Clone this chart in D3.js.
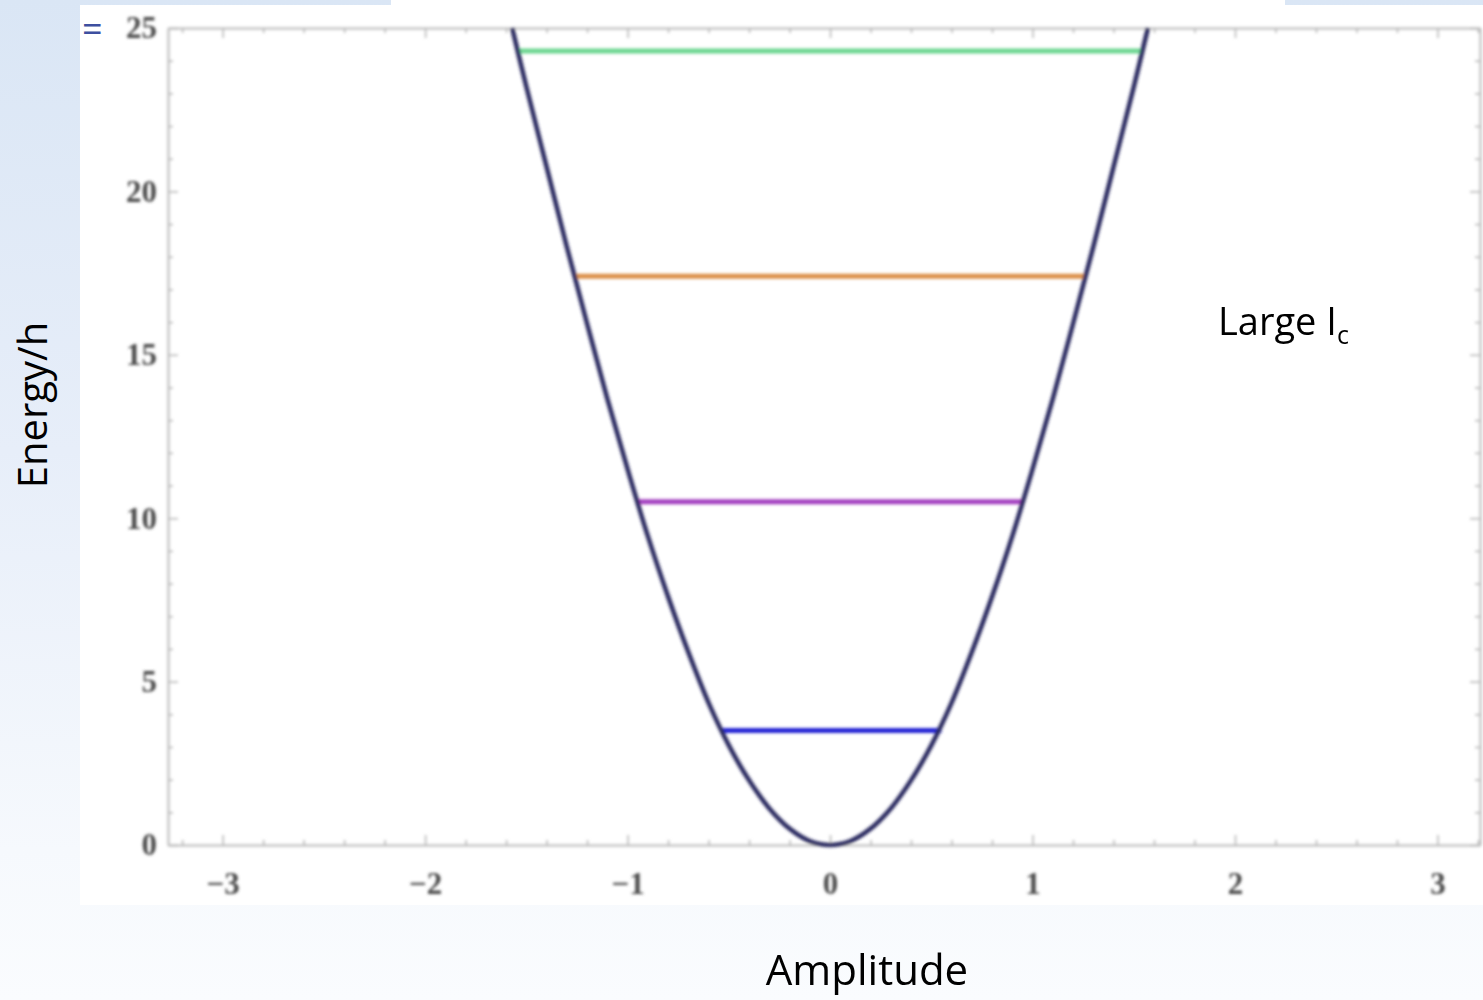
<!DOCTYPE html>
<html>
<head>
<meta charset="utf-8">
<script src="https://cdn.jsdelivr.net/npm/d3@7"></script>
<style>
  html, body { margin: 0; padding: 0; background: #ffffff; }
  svg { display: block; }
</style>
</head>
<body>
<svg id="chart" width="1483" height="1000"></svg>
<script>
// Potential curve: amplitude (x) and energy/h (y) sampled along the well
const ampPoints    = [-1.57, -1.5, -1.4, -1.3, -1.2, -1.1, -1.0, -0.9, -0.8, -0.7, -0.6, -0.5, -0.4, -0.3, -0.2, -0.1, 0,
                       0.1, 0.2, 0.3, 0.4, 0.5, 0.6, 0.7, 0.8, 0.9, 1.0, 1.1, 1.2, 1.3, 1.4, 1.5, 1.57];
const energyPoints = [25.0, 23.2, 20.75, 18.3, 15.95, 13.65, 11.5, 9.45, 7.6, 5.9, 4.35, 3.05, 1.98, 1.12, 0.5, 0.12, 0,
                       0.12, 0.5, 1.12, 1.98, 3.05, 4.35, 5.9, 7.6, 9.45, 11.5, 13.65, 15.95, 18.3, 20.75, 23.2, 25.0];

// Energy levels inside the well and where each meets the walls
const levelEnergy = [3.5, 10.5, 17.4, 24.3];
const levelLeft   = [-0.54, -0.95, -1.26, -1.54];
const levelRight  = [0.55, 0.95, 1.26, 1.54];

// Tick labels
const xTicks = [-3, -2, -1, 0, 1, 2, 3];
const yTicks = [0, 5, 10, 15, 20, 25];

const levelColors = ["#2424d4", "#a23cbf", "#dc904a", "#6cd690"];

const svg = d3.select("#chart");
const W = 1483, H = 1000;

// slide background
const defs = svg.append("defs");
const grad = defs.append("linearGradient").attr("id", "bg").attr("x1", 0).attr("y1", 0).attr("x2", 0).attr("y2", 1);
grad.append("stop").attr("offset", "0%").attr("stop-color", "#dae6f5");
grad.append("stop").attr("offset", "45%").attr("stop-color", "#e7eef9");
grad.append("stop").attr("offset", "85%").attr("stop-color", "#f6f9fd");
grad.append("stop").attr("offset", "100%").attr("stop-color", "#fafcfe");
defs.append("filter").attr("id", "soft").attr("x", "-5%").attr("y", "-5%").attr("width", "110%").attr("height", "110%")
  .append("feGaussianBlur").attr("stdDeviation", 1.7);

svg.append("rect").attr("width", W).attr("height", H).attr("fill", "url(#bg)");
svg.append("rect").attr("x", 80).attr("y", 5).attr("width", W - 80).attr("height", 900).attr("fill", "#ffffff");
svg.append("rect").attr("x", 391).attr("y", 0).attr("width", 894).attr("height", 5).attr("fill", "#ffffff");

svg.append("text").attr("x", 82).attr("y", 42)
  .attr("font-family", "Open Sans, sans-serif").attr("font-size", 36).attr("fill", "#3d4fa0")
  .text("=");

// scales
const x = d3.scaleLinear().domain([-3.27, 3.21]).range([168, 1480]);
const y = d3.scaleLinear().domain([0, 25]).range([845, 28]);

const plot = svg.append("g").attr("filter", "url(#soft)");

const frameColor = "#b8b8b8";
const minorX = d3.range(-3.2, 3.21, 0.2).map(v => +v.toFixed(1)).filter(v => Math.abs(v - Math.round(v)) > 1e-6);
const minorY = d3.range(1, 25, 1).filter(v => v % 5 !== 0);
const fmt = d3.format("d");

function styleAxis(g) {
  g.select(".domain").attr("stroke", frameColor).attr("stroke-width", 2);
  g.selectAll(".tick line").attr("stroke", frameColor).attr("stroke-width", 1.6);
  g.selectAll(".tick text")
    .attr("font-family", "Liberation Serif, Times New Roman, serif")
    .attr("font-weight", "bold")
    .attr("font-size", 31).attr("fill", "#4a4a4a");
}

// bottom
plot.append("g").attr("transform", `translate(0,${y(0)})`)
  .call(d3.axisBottom(x).tickValues(xTicks).tickFormat(fmt).tickSize(-10).tickSizeOuter(0).tickPadding(27))
  .call(styleAxis);
plot.append("g").attr("transform", `translate(0,${y(0)})`)
  .call(d3.axisBottom(x).tickValues(minorX).tickSize(-5).tickSizeOuter(0).tickFormat(""))
  .call(styleAxis).call(g => g.select(".domain").remove());
// top
plot.append("g").attr("transform", `translate(0,${y(25)})`)
  .call(d3.axisTop(x).tickValues(xTicks).tickSize(-10).tickSizeOuter(0).tickFormat(""))
  .call(styleAxis);
plot.append("g").attr("transform", `translate(0,${y(25)})`)
  .call(d3.axisTop(x).tickValues(minorX).tickSize(-5).tickSizeOuter(0).tickFormat(""))
  .call(styleAxis).call(g => g.select(".domain").remove());
// left
plot.append("g").attr("transform", `translate(${x(-3.27)},0)`)
  .call(d3.axisLeft(y).tickValues(yTicks).tickFormat(fmt).tickSize(-10).tickSizeOuter(0).tickPadding(11))
  .call(styleAxis);
plot.append("g").attr("transform", `translate(${x(-3.27)},0)`)
  .call(d3.axisLeft(y).tickValues(minorY).tickSize(-5).tickSizeOuter(0).tickFormat(""))
  .call(styleAxis).call(g => g.select(".domain").remove());
// right
plot.append("g").attr("transform", `translate(${x(3.21)},0)`)
  .call(d3.axisRight(y).tickValues(yTicks).tickSize(-10).tickSizeOuter(0).tickFormat(""))
  .call(styleAxis);
plot.append("g").attr("transform", `translate(${x(3.21)},0)`)
  .call(d3.axisRight(y).tickValues(minorY).tickSize(-5).tickSizeOuter(0).tickFormat(""))
  .call(styleAxis).call(g => g.select(".domain").remove());

// energy levels
plot.selectAll("line.level").data(levelEnergy).join("line")
  .attr("class", "level")
  .attr("x1", (d, i) => x(levelLeft[i]))
  .attr("x2", (d, i) => x(levelRight[i]))
  .attr("y1", d => y(d)).attr("y2", d => y(d))
  .attr("stroke", (d, i) => levelColors[i])
  .attr("stroke-width", 5);

// potential well
const pts = ampPoints.map((a, i) => [a, energyPoints[i]]);
plot.append("path").datum(pts)
  .attr("d", d3.line().x(d => x(d[0])).y(d => y(d[1])).curve(d3.curveCatmullRom))
  .attr("fill", "none").attr("stroke", "#2c2c60").attr("stroke-width", 4.6);

// labels
const labelFont = "Open Sans, sans-serif";
svg.append("text")
  .attr("transform", "translate(47,405) rotate(-90)")
  .attr("text-anchor", "middle")
  .attr("font-family", labelFont).attr("font-size", 40).attr("fill", "#000")
  .text("Energy/h");

svg.append("text")
  .attr("x", 867).attr("y", 985)
  .attr("text-anchor", "middle")
  .attr("font-family", labelFont).attr("font-size", 42).attr("fill", "#000")
  .text("Amplitude");

const lg = svg.append("text")
  .attr("x", 1218).attr("y", 335)
  .attr("font-family", labelFont).attr("font-size", 38).attr("fill", "#000");
lg.append("tspan").text("Large I");
lg.append("tspan").attr("font-size", 25).attr("dy", 9).text("c");
</script>
</body>
</html>
